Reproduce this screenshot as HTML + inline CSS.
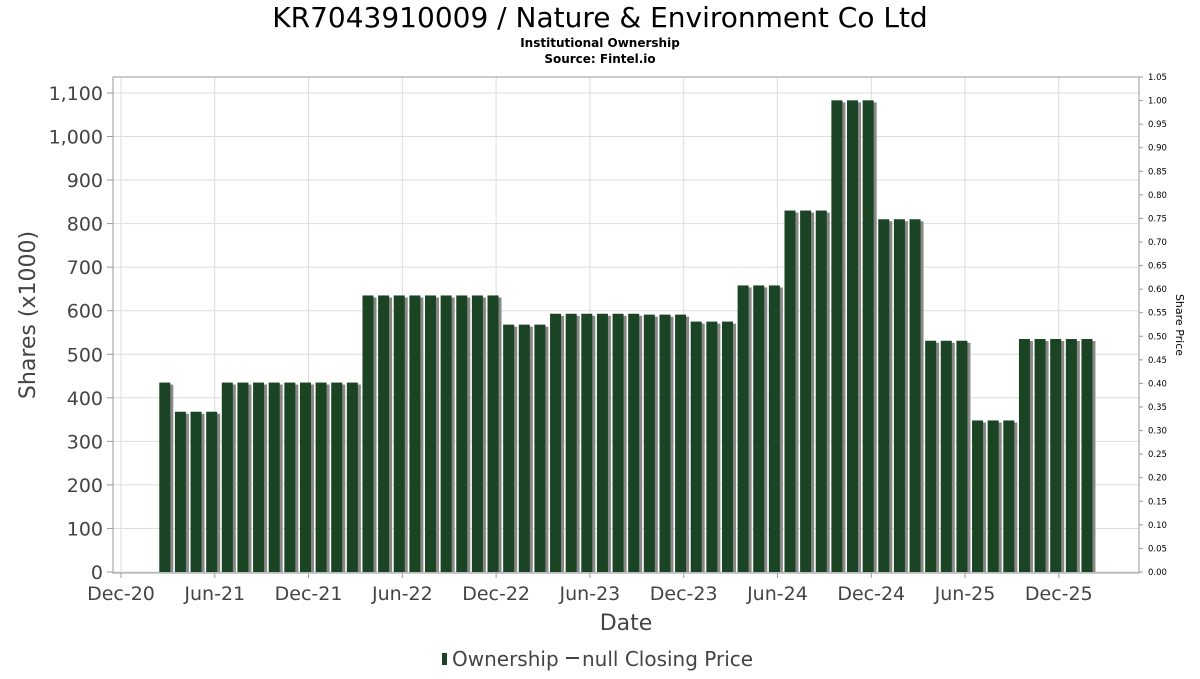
<!DOCTYPE html>
<html><head><meta charset="utf-8"><style>
body{margin:0;background:#fff;font-family:"DejaVu Sans","Liberation Sans",sans-serif;}
svg text{font-family:"DejaVu Sans","Liberation Sans",sans-serif;}
</style></head><body>
<svg id="c" width="1200" height="675" xmlns="http://www.w3.org/2000/svg">
<text x="600" y="27" text-anchor="middle" font-size="28" fill="#000">KR7043910009 / Nature &amp; Environment Co Ltd</text>
<text x="600" y="47" text-anchor="middle" font-size="12" font-weight="bold" fill="#000">Institutional Ownership</text>
<text x="600" y="63" text-anchor="middle" font-size="12" font-weight="bold" fill="#000">Source: Fintel.io</text>
<g id="grid"></g><g id="bars"></g><g id="axes"></g>
<text x="45" y="325" text-anchor="middle" font-size="22" fill="#444" transform="rotate(-90 35 325)">Shares (x1000)</text>
<text x="1176" y="325" text-anchor="middle" font-size="11" fill="#000" transform="rotate(90 1176 325)">Share Price</text>
<text x="626" y="630" text-anchor="middle" font-size="22" fill="#444">Date</text>
<g>
<rect x="442" y="653" width="5" height="12" fill="#1a4423"/>
<text x="452" y="666" font-size="20" fill="#444">Ownership</text>
<line x1="566" y1="658" x2="579" y2="658" stroke="#444" stroke-width="2"/>
<text x="582" y="666" font-size="20" fill="#444">null Closing Price</text>
</g>
</svg>
<script>
const months=[3,4,5,6,7,8,9,10,11,12,13,14,15,16,17,18,19,20,21,22,23,24,25,26,27,28,29,30,31,32,33,34,35,36,37,38,39,40,41,42,43,44,45,46,47,48,49,50,51,52,53,54,55,56,57,58,59,60,61,62];
const values=[435,368,368,368,435,435,435,435,435,435,435,435,435,635,635,635,635,635,635,635,635,635,568,568,568,593,593,593,593,593,593,591,591,591,575,575,575,658,658,658,830,830,830,1083,1083,1083,810,810,810,531,531,531,348,348,348,535,535,535,535,535];
const yTicks=[0,100,200,300,400,500,600,700,800,900,1000,1100];
const xTickMonths=[0,6,12,18,24,30,36,42,48,54,60];
const xTickLabels=["Dec-20","Jun-21","Dec-21","Jun-22","Dec-22","Jun-23","Dec-23","Jun-24","Dec-24","Jun-25","Dec-25"];
const rTicks=[0,0.05,0.1,0.15,0.2,0.25,0.3,0.35,0.4,0.45,0.5,0.55,0.6,0.65,0.7,0.75,0.8,0.85,0.9,0.95,1.0,1.05];
const L=113,R=1139,T=77,B=573;
const x=m=>121+15.63*m;
const y=v=>572-v*0.4355;
const yr=p=>572-p*(495/1.05);
const NS="http://www.w3.org/2000/svg";
function mk(t,a,p){const e=document.createElementNS(NS,t);for(const k in a)e.setAttribute(k,a[k]);p.appendChild(e);return e;}
const g=document.getElementById('grid'),b=document.getElementById('bars'),ax=document.getElementById('axes');
mk('rect',{x:L,y:T,width:R-L,height:B-T,fill:'#fff',stroke:'#999'},g);
yTicks.forEach(v=>{
 const l=mk('line',{x1:L,x2:R,y1:y(v),y2:y(v),stroke:'#ddd'},g);
 
 
 const t=mk('text',{x:103,y:y(v)+7,'text-anchor':'end','font-size':19,fill:'#444'},ax);
 t.textContent=v.toLocaleString('en-US');
 
 
 mk('line',{x1:107,x2:113,y1:y(v),y2:y(v),stroke:'#999'},ax);
});
xTickMonths.forEach((m,i)=>{
 const l=mk('line',{x1:x(m),x2:x(m),y1:T,y2:B,stroke:'#ddd'},g);
 
 
 mk('line',{x1:x(m),x2:x(m),y1:B,y2:B+5,stroke:'#999'},ax);
 const t=mk('text',{x:x(m),y:600,'text-anchor':'middle','font-size':19,fill:'#444'},ax);
 t.textContent=xTickLabels[i];
 
 
});
rTicks.forEach(p=>{
 mk('line',{x1:R,x2:R+4,y1:yr(p),y2:yr(p),stroke:'#999'},ax);
 const t=mk('text',{x:1148,y:yr(p)+3,'font-size':8.5,fill:'#000'},ax);
 t.textContent=p.toFixed(2);
 
 
});
months.forEach((m,i)=>{
 const left=x(m)-8.6,top=y(values[i]);
 const s=mk('rect',{x:left+3,y:top+2,width:11,height:572-top-2,fill:'#888'},b);
 
 
 const r=mk('rect',{x:left,y:top,width:11,height:572-top,fill:'#1a4423'},b);
 
 
});
mk('rect',{x:L,y:T,width:R-L,height:B-T,fill:'none',stroke:'#999'},ax);
</script>
</body></html>
